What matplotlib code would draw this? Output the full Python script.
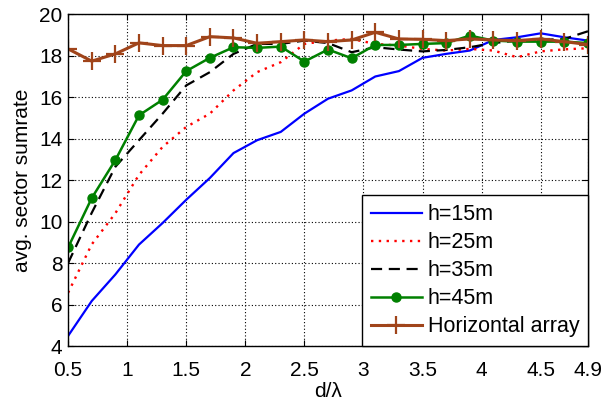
import numpy as np
import matplotlib
matplotlib.use("Agg")
import matplotlib.pyplot as plt

plt.rcParams['font.family'] = ['Liberation Sans', 'DejaVu Sans']

d = [0.5, 0.7, 0.9, 1.1, 1.3, 1.5, 1.7, 1.9, 2.1, 2.3, 2.5, 2.7, 2.9, 3.1,
     3.3, 3.5, 3.7, 3.9, 4.1, 4.3, 4.5, 4.7, 4.9]

h15 = [4.49, 6.17, 7.45, 8.89, 9.93, 11.05, 12.1, 13.3, 13.92, 14.32, 15.2, 15.92,
       16.32, 16.99, 17.25, 17.89, 18.08, 18.24, 18.75, 18.88, 19.07, 18.88, 18.72]
h25 = [6.57, 8.9, 10.4, 12.25, 13.6, 14.56, 15.2, 16.32, 17.2, 17.68, 18.56, 18.72,
       18.8, 18.56, 18.48, 18.32, 18.24, 18.32, 18.24, 17.92, 18.2, 18.3, 18.35]
h35 = [8.0, 10.42, 12.64, 13.92, 15.2, 16.56, 17.2, 18.08, 18.56, 18.56, 18.72, 18.6,
       18.16, 18.4, 18.29, 18.2, 18.27, 18.4, 18.6, 18.72, 18.75, 18.8, 19.17]
h45 = [8.75, 11.13, 12.96, 15.12, 15.87, 17.25, 17.89, 18.4, 18.37, 18.43, 17.71, 18.29,
       17.87, 18.51, 18.51, 18.56, 18.6, 18.96, 18.72, 18.67, 18.67, 18.67, 18.6]
horiz = [18.32, 17.73, 18.08, 18.61, 18.48, 18.48, 18.91, 18.85, 18.59, 18.67, 18.75, 18.67,
         18.75, 19.12, 18.8, 18.78, 18.72, 18.8, 18.75, 18.72, 18.8, 18.67, 18.53]

labels = ['h=15m', 'h=25m', 'h=35m', 'h=45m', 'Horizontal array']
xticks = [0.5, 1, 1.5, 2, 2.5, 3, 3.5, 4, 4.5, 4.9]
xticklabels = ['0.5', '1', '1.5', '2', '2.5', '3', '3.5', '4', '4.5', '4.9']
yticks = [4, 6, 8, 10, 12, 14, 16, 18, 20]

fig = plt.figure(figsize=(6.08, 4.01), dpi=100)
ax = fig.add_axes([0.112, 0.137, 0.855, 0.828])

ax.plot(d, h15, color='#0000FF', lw=1.6, label=labels[0])
ax.plot(d, h25, color='#FF0000', lw=1.7, ls=(0, (1, 2.3)), label=labels[1])
ax.plot(d, h35, color='black', lw=1.6, ls=(0, (5, 3)), label=labels[2])
ax.plot(d, h45, color='#008000', lw=1.8, marker='o', ms=6.5, label=labels[3])
ax.plot(d, horiz, color='#A0441A', lw=2.2, marker='+', ms=13, mew=1.6, label=labels[4])

ax.set_xlim(0.5, 4.9)
ax.set_ylim(4, 20)
ax.set_xticks(xticks)
ax.set_xticklabels(xticklabels)
ax.set_yticks(yticks)
ax.tick_params(direction='in', length=4, labelsize=15, top=True, right=True,
               labeltop=False, labelright=False)
ax.tick_params(axis='x', pad=11)
ax.tick_params(axis='y', pad=4)
ax.grid(True, color='black', ls=(0, (1, 2)), lw=0.8)
for s in ax.spines.values():
    s.set_linewidth(1.0)

ax.set_xlabel('d/λ', fontsize=15, labelpad=1)
ax.set_ylabel('avg. sector sumrate', fontsize=15, labelpad=5)

leg = ax.legend(loc='lower right', fontsize=15.5, frameon=True, fancybox=False,
                edgecolor='black', framealpha=1, borderaxespad=0.0,
                handlelength=2.4, handletextpad=0.25, labelspacing=0.33,
                borderpad=0.4)
leg.get_frame().set_linewidth(1.0)

fig.savefig('out.png', dpi=100)
